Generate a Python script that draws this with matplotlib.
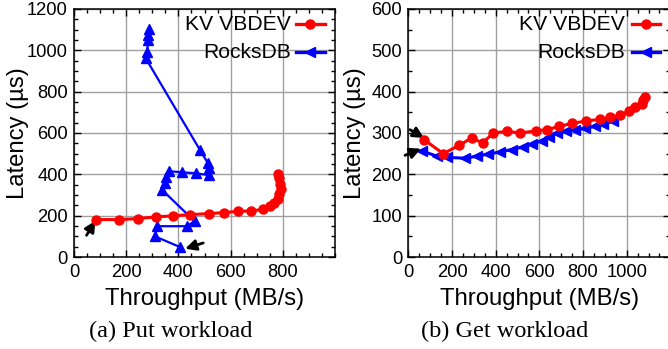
import matplotlib
matplotlib.use("Agg")
import matplotlib.pyplot as plt
from matplotlib.ticker import MultipleLocator
from matplotlib.lines import Line2D

# ---- data: Put workload ----
put_kv_x = [84, 172, 247, 313, 380, 443, 517, 575, 629, 679, 724, 752, 768, 781, 787, 794, 791, 785, 781]
put_kv_y = [181, 181, 186, 194, 199, 205, 210, 215, 221, 223, 230, 246, 262, 283, 307, 331, 355, 380, 400]
put_rocks_x = [408, 310, 319, 432, 462, 339, 348, 354, 364, 415, 466, 517, 517, 513, 483, 275, 280, 284, 284, 287]
put_rocks_y = [47, 100, 149, 149, 173, 323, 357, 386, 415, 410, 405, 396, 430, 454, 517, 961, 990, 1049, 1074, 1103]

# ---- data: Get workload ----
get_kv_x = [72, 160, 232, 290, 341, 389, 453, 511, 583, 634, 690, 748, 813, 878, 924, 969, 1012, 1038, 1069, 1076, 1084]
get_kv_y = [284, 250, 270, 288, 276, 300, 304, 300, 305, 308, 316, 323, 329, 333, 338, 343, 353, 362, 371, 379, 386]
get_rocks_x = [61, 130, 179, 260, 316, 366, 420, 473, 524, 565, 611, 646, 680, 721, 763, 809, 855, 893, 939]
get_rocks_y = [257, 244, 241, 239, 244, 249, 254, 260, 266, 273, 281, 291, 299, 304, 307, 311, 316, 321, 329]

series_labels = ["KV VBDEV", "RocksDB"]
x_label = "Throughput (MB/s)"
y_label = "Latency (\u00b5s)"
captions = ["(a) Put workload", "(b) Get workload"]

RED = "#ff0000"
BLUE = "#0000ff"
SANS = "Liberation Sans"
SERIF = "Liberation Serif"

plt.rcParams["font.family"] = [SANS, "DejaVu Sans"]

W, H = 668, 349
fig = plt.figure(figsize=(W / 100, H / 100), dpi=100)


def fx(px):
    return px / W


def fy(py):
    return 1 - py / H


ax1 = fig.add_axes([fx(74), fy(257), (335 - 74) / W, (257 - 9) / H])
ax2 = fig.add_axes([fx(408.3), fy(257), (670.4 - 408.3) / W, (257 - 9) / H])


def style(ax, xmax, ymax, ymajor):
    ax.set_xlim(0, xmax)
    ax.set_ylim(0, ymax)
    ax.xaxis.set_major_locator(MultipleLocator(200))
    ax.xaxis.set_minor_locator(MultipleLocator(50))
    ax.yaxis.set_major_locator(MultipleLocator(ymajor))
    ax.yaxis.set_minor_locator(MultipleLocator(50))
    ax.tick_params(which="both", direction="in", top=True, right=True,
                   width=1.0, labelsize=13.2)
    ax.tick_params(which="major", length=5)
    ax.tick_params(which="minor", length=3)
    ax.tick_params(axis="x", pad=5)
    ax.tick_params(axis="y", pad=4.5)
    ax.grid(True, which="major", color="#a0a0a0", lw=1.0)
    ax.set_axisbelow(True)
    for s in ax.spines.values():
        s.set_linewidth(1.1)
    ax.set_xlabel(x_label, fontsize=17.2, va="center")
    ax.set_ylabel(y_label, fontsize=17.2, va="center")


style(ax1, 1000, 1200, 200)
style(ax2, 1200, 600, 100)
ax1.set_xticks([0, 200, 400, 600, 800])
ax1.set_xticklabels(["0", "200", "400", "600", "800"])
ax2.set_xticks([0, 200, 400, 600, 800, 1000])
ax1.xaxis.set_minor_locator(MultipleLocator(50))

ax1.xaxis.set_label_coords(0.5, (257 - 299) / 248)
ax2.xaxis.set_label_coords(0.5, (257 - 299) / 248)
ax1.yaxis.set_label_coords((18 - 74) / 261, 0.5)
ax2.yaxis.set_label_coords((355 - 408.3) / 262.1, 0.5)

# Put
ax1.plot(put_rocks_x, put_rocks_y, color=BLUE, lw=1.6, marker="^", ms=7.5, zorder=3)
ax1.plot(put_kv_x, put_kv_y, color=RED, lw=2.2, marker="o", ms=6.5, zorder=4)
# Get
ax2.plot(get_rocks_x, get_rocks_y, color=BLUE, lw=2.2, marker="<", ms=7.5, zorder=3)
ax2.plot(get_kv_x, get_kv_y, color=RED, lw=2.2, marker="o", ms=6.5, zorder=4)

arrow = dict(arrowstyle="-|>", color="k", lw=2.0, mutation_scale=16, shrinkA=0, shrinkB=0)
ax1.annotate("", xy=(82, 175), xytext=(48, 105), arrowprops=arrow, annotation_clip=False)
ax1.annotate("", xy=(426, 40), xytext=(495, 68), arrowprops=arrow, annotation_clip=False)
ax2.annotate("", xy=(72, 288), xytext=(8, 308), arrowprops=arrow, annotation_clip=False)
ax2.annotate("", xy=(58, 262), xytext=(-15, 246), arrowprops=arrow, annotation_clip=False)

# legends (gnuplot style: right-justified text, then sample)
def legend(ax, x_text, x0, x1, rows, rocks_marker):
    specs = [(series_labels[0], RED, "o", 2.4), (series_labels[1], BLUE, rocks_marker, 2.4)]
    for (lab, col, mk, lw), yy in zip(specs, rows):
        ax.text(x_text, yy, lab, transform=ax.transAxes, ha="right", va="center",
                fontsize=15.2, zorder=6)
        ax.add_line(Line2D([x0, x1], [yy, yy], transform=ax.transAxes, color=col,
                           lw=lw, clip_on=False, zorder=6))
        ax.add_line(Line2D([(x0 + x1) / 2], [yy], transform=ax.transAxes, color=col,
                           marker=mk, ms=7.5 if mk != "o" else 6.5, lw=0,
                           clip_on=False, zorder=6))


rows = [(257 - 24) / 248, (257 - 52) / 248]
legend(ax1, (290.7 - 74) / 261, (295.5 - 74) / 261, (325 - 74) / 261, rows, "<")
legend(ax2, (625 - 408.3) / 262.1, (632 - 408.3) / 262.1, (660 - 408.3) / 262.1, rows, "<")

fig.text(fx(171), fy(331), captions[0], ha="center", va="center", family=SERIF, fontsize=17.5)
fig.text(fx(505), fy(331), captions[1], ha="center", va="center", family=SERIF, fontsize=17.5)

fig.savefig("out.png", dpi=100)
